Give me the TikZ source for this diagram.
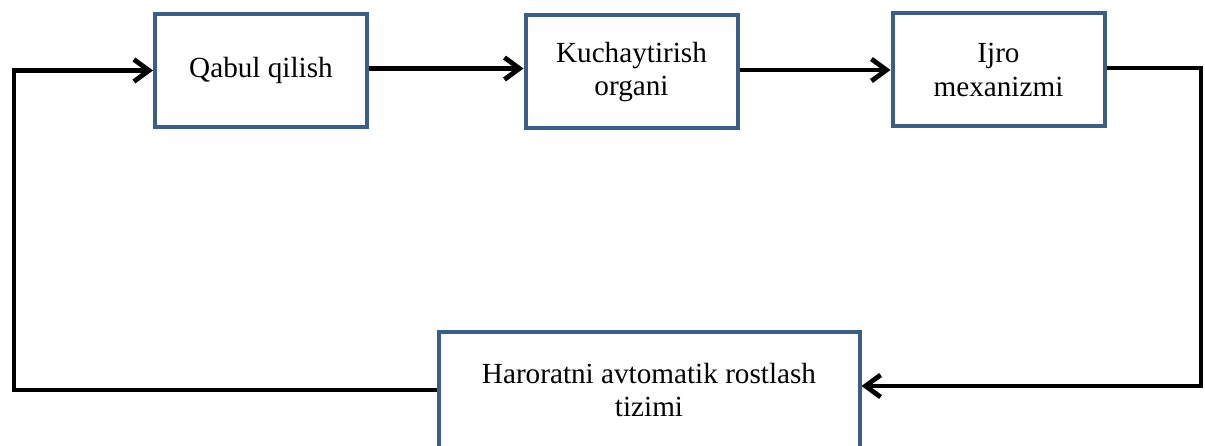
\documentclass[tikz,border=0pt]{standalone}
\usepackage{fontspec}
\setmainfont{Liberation Serif}
\usetikzlibrary{arrows.meta,positioning}
\definecolor{boxblue}{RGB}{58,94,138}

\begin{document}
\begin{tikzpicture}[x=0.5pt,y=0.5pt,{block/.style={rectangle,draw=boxblue,line width=2pt,fill=white,align=center,minimum width=106pt,minimum height=56.5pt,inner sep=1pt,font=\fontsize{14.6}{16.8}\selectfont}},{arr/.style={line width=2.4pt,-{Straight Barb[length=7.5pt,width=11pt,line width=2.4pt]}}}]
		%%frame
		\useasboundingbox (0,0) rectangle (1205,445);
		\clip (0,0) rectangle (1205,445);
		%%blocks
		\node at (261,374.5) [block] (qabul) {Qabul qilish};
		\node at (631.5,373) [block] (kuch) {Kuchaytirish\\organi};
		\node at (998.5,375) [block] (ijro) {Ijro\\mexanizmi};
		\node at (649,55) [block,minimum width=210.5pt,minimum height=58pt] (harorat) {Haroratni avtomatik rostlash\\tizimi};
		%%turning points
		\coordinate (lc) at (14,0);
		\coordinate (rc) at (1201,0);
		\coordinate (hin) at ([yshift=2pt]harorat.east);
		%%connectors
		\draw [arr] ([yshift=1pt]qabul.east) -- ([yshift=1pt]qabul.east -| kuch.west);
		\draw [arr] ([yshift=1pt]kuch.east) -- ([yshift=1pt]kuch.east -| ijro.west);
		\draw [arr] ([yshift=1pt]ijro.east) -| (rc |- hin) -- (hin);
		\draw [arr] (harorat.west) -| (lc |- qabul.west) -- (qabul.west);
	\end{tikzpicture}
\end{document}
